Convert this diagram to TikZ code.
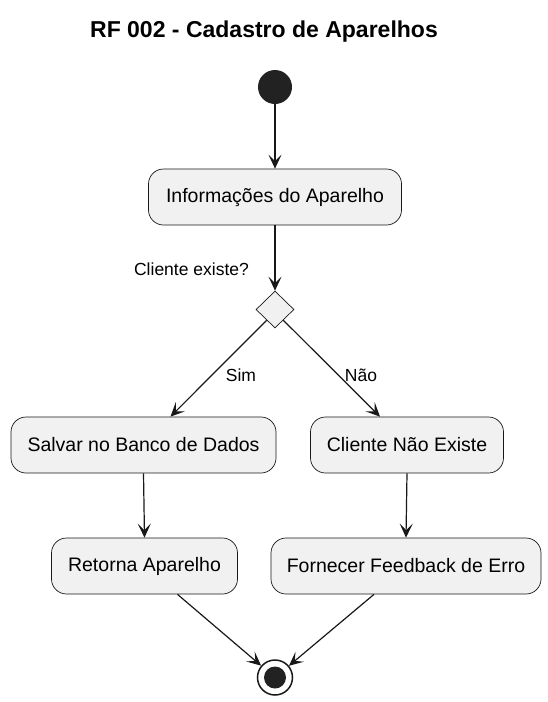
\documentclass[tikz,border=0pt]{standalone}
\usepackage{fontspec}
\setmainfont{Liberation Sans}
\usetikzlibrary{shapes.geometric,arrows.meta,calc}
\definecolor{boxfill}{HTML}{F1F1F1}
\definecolor{ink}{HTML}{181818}
\definecolor{dot}{HTML}{222222}
\begin{document}
\begin{tikzpicture}[x=1pt,y=-1pt,
  actbox/.style={draw=ink,line width=0.7pt,fill=boxfill,rounded corners=15pt,
    minimum height=56pt,inner sep=0pt,font=\fontsize{19.5}{22}\selectfont},
  flow/.style={draw=ink,line width=1.2pt,-{Stealth[length=14pt,width=13pt,inset=6.5pt]}},
  lbl/.style={inner sep=0pt,font=\fontsize{17.5}{20}\selectfont}]
\useasboundingbox (0,0) rectangle (548,702);
\node[inner sep=0pt,font=\fontsize{23}{26}\selectfont\bfseries] (title) at (264,31.5) {RF 002 - Cadastro de Aparelhos};
\node[circle,fill=dot,minimum size=34pt,inner sep=0pt] (start) at (275,87) {};
\node[actbox,minimum width=253pt] (info) at (275,197) {Informações do Aparelho};
\node[lbl] (q) at (191.5,269) {Cliente existe?};
\node[diamond,draw=ink,line width=0.7pt,fill=boxfill,minimum width=38pt,minimum height=37pt,inner sep=0pt] (dia) at (275,309.5) {};
\node[actbox,minimum width=265pt] (salvar) at (143.5,445) {Salvar no Banco de Dados};
\node[actbox,minimum width=193pt] (cliente) at (407,445) {Cliente Não Existe};
\node[actbox,minimum width=186pt] (retorna) at (144.5,566) {Retorna Aparelho};
\node[actbox,minimum width=270pt] (fornecer) at (406,566) {Fornecer Feedback de Erro};
\node[circle,draw=ink,line width=1.5pt,fill=white,minimum size=35pt,inner sep=0pt] (end) at (275,677.5) {};
\node[circle,fill=dot,minimum size=22pt,inner sep=0pt] (endin) at (end.center) {};
\node[lbl] (sim) at (241,375) {Sim};
\node[lbl] (nao) at (361,375) {Não};
\draw[flow] (start) -- (info.north);
\draw[flow] (info.south) -- (dia.north);
\draw[flow] ($(dia.south)!0.43!(dia.west)$) -- ([xshift=27pt]salvar.north);
\draw[flow] ($(dia.south)!0.43!(dia.east)$) -- ([xshift=-27pt]cliente.north);
\draw[flow] (salvar.south) -- (retorna.north);
\draw[flow] (cliente.south) -- (fornecer.north);
\draw[flow] ([xshift=33pt]retorna.south) -- (end);
\draw[flow] ([xshift=-32pt]fornecer.south) -- (end);
\end{tikzpicture}
\end{document}
